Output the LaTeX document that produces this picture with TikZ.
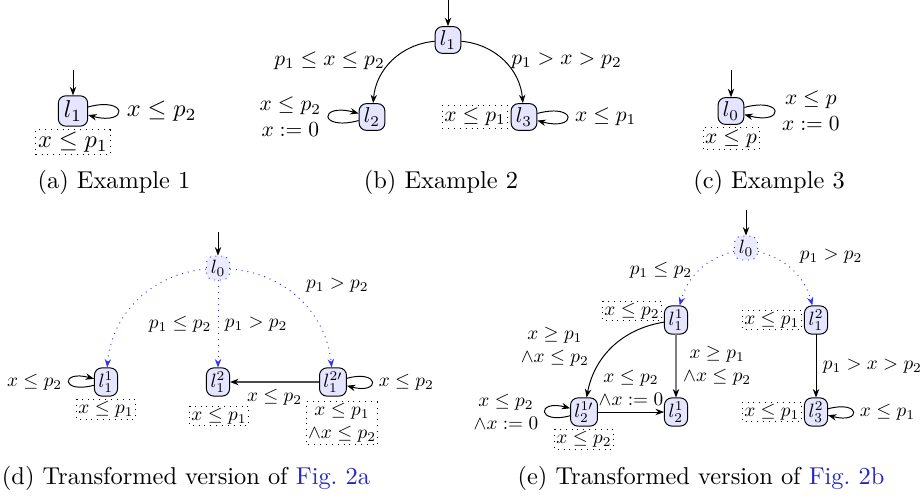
\documentclass[tikz,border=0pt]{standalone}
\usetikzlibrary{arrows.meta, positioning}
\definecolor{lkblue}{HTML}{2626C4}

\begin{document}
\begin{tikzpicture}[x=0.41pt, y=0.41pt,
  loc/.style={draw, rounded corners=3pt, fill=blue!10, inner sep=2pt,
              minimum width=12pt, minimum height=10.5pt},
  tloc/.style={loc, draw=blue!80, dotted, fill=blue!8},
  inv/.style={draw, dotted, inner sep=1pt},
  tr/.style={-{Stealth[length=3.5pt]}},
  split/.style={-{Stealth[length=3.5pt]}, draw=blue!80, dotted},
  lbl/.style={align=center},
  every loop/.append style={min distance=6mm}
]
  \useasboundingbox (0,0) rectangle (922,-498);

  % (a) Example 1
  \begin{scope}
    \coordinate (a0) at (73,-70);
    \node[loc] (a1) at (73,-111) {$l_1$};
    \node[inv, below=1pt of a1] (a1inv) {$x \le p_1$};
    \draw[tr] (a0) -- (a1);
    \draw[tr] (a1) to[loop right] node[right] {$x \le p_2$} (a1);
  \end{scope}

  % (b) Example 2
  \begin{scope}[every node/.append style={scale=0.88}]
    \coordinate (b0) at (448,0);
    \node[loc] (b1) at (448,-40) {$l_1$};
    \node[loc] (b2) at (372,-117) {$l_2$};
    \node[loc] (b3) at (524,-117) {$l_3$};
    \node[inv, left=1pt of b3] (b3inv) {$x \le p_1$};
    \draw[tr] (b0) -- (b1);
    \draw[tr] (b1) to[bend right=40] node[left] {$p_1 \le x \le p_2$} (b2);
    \draw[tr] (b1) to[bend left=40] node[right] {$p_1 > x > p_2$} (b3);
    \draw[tr] (b2) to[loop left] node[left, lbl] {$x \le p_2$\\$x := 0$} (b2);
    \draw[tr] (b3) to[loop right] node[right] {$x \le p_1$} (b3);
  \end{scope}

  % (c) Example 3
  \begin{scope}[every node/.append style={scale=0.88}]
    \coordinate (c0) at (731,-70);
    \node[loc] (c1) at (731,-111) {$l_0$};
    \node[inv, below=1pt of c1] (c1inv) {$x \le p$};
    \draw[tr] (c0) -- (c1);
    \draw[tr] (c1) to[loop right] node[right, lbl] {$x \le p$\\$x := 0$} (c1);
  \end{scope}

  % (d) transformed Example 1
  \begin{scope}[every node/.append style={scale=0.79},
                every loop/.append style={min distance=5mm}]
    \coordinate (d0i) at (218,-232);
    \node[tloc] (d0) at (218,-268) {$l_0$};
    \node[loc] (d11) at (106,-382) {$l_1^1$};
    \node[loc] (d12) at (218,-382) {$l_1^2$};
    \node[loc] (d12p) at (333,-382) {$l_1^{2\prime}$};
    \node[inv, below=1pt of d11] (d11inv) {$x \le p_1$};
    \node[inv] (d12inv) at (219,-416) {$x \le p_1$};
    \node[inv, lbl] (d12pinv) at (342,-423) {$x \le p_1$\\$\wedge x \le p_2$};
    \draw[tr] (d0i) -- (d0);
    \draw[split] (d0) to[bend right=40] (d11);
    \draw[split] (d0) -- node[left] {$p_1 \le p_2$} node[right] {$p_1 > p_2$} (d12);
    \draw[split] (d0) to[bend left=40] node[above right] {$p_1 > p_2$} (d12p);
    \draw[tr] (d11) to[loop left] node[left] {$x \le p_2$} (d11);
    \draw[-{Stealth[length=3.5pt, black]}, draw=black!70, semithick] (d12p) -- node[below] {$x \le p_2$} (d12);
    \draw[tr] (d12p) to[loop right] node[right] {$x \le p_2$} (d12p);
  \end{scope}

  % (e) transformed Example 2
  \begin{scope}[every node/.append style={scale=0.79},
                every loop/.append style={min distance=5mm}]
    \coordinate (e0i) at (746,-210);
    \node[tloc] (e0) at (746,-248) {$l_0$};
    \node[loc] (e11) at (676,-320) {$l_1^1$};
    \node[loc] (e12) at (816,-320) {$l_1^2$};
    \node[loc] (e21p) at (584,-412) {$l_2^{1\prime}$};
    \node[loc] (e21) at (676,-412) {$l_2^1$};
    \node[loc] (e32) at (816,-412) {$l_3^2$};
    \node[inv] (e11inv) at (632,-311) {$x \le p_2$};
    \node[inv, left=1pt of e12] (e12inv) {$x \le p_1$};
    \node[inv, below=1pt of e21p] (e21pinv) {$x \le p_2$};
    \node[inv, left=1pt of e32] (e32inv) {$x \le p_1$};
    \draw[tr] (e0i) -- (e0);
    \draw[split] (e0) to[bend right=30] node[left] {$p_1 \le p_2$} (e11);
    \draw[split] (e0) to[bend left=30] node[above right] {$p_1 > p_2$} (e12);
    \draw[tr] (e11) to[bend right=35] node[left=7pt, lbl] {$x \ge p_1$\\$\wedge x \le p_2$} (e21p);
    \draw[-{Stealth[length=3.5pt, black]}, draw=gray, thick] (e11) -- node[right, lbl] {$x \ge p_1$\\$\wedge x \le p_2$} (e21);
    \draw[tr] (e21p) -- node[above, lbl] {$x \le p_2$\\$\wedge x := 0$} (e21);
    \draw[tr] (e21p) to[loop left] node[left, lbl] {$x \le p_2$\\$\wedge x := 0$} (e21p);
    \draw[tr] (e12) -- node[right] {$p_1 > x > p_2$} (e32);
    \draw[tr] (e32) to[loop right] node[right] {$x \le p_1$} (e32);
  \end{scope}

  % Captions
  \node (capa) at (114,-182) {(a) Example 1};
  \node (capb) at (441,-182) {(b) Example 2};
  \node (capc) at (769,-182) {(c) Example 3};
  \node (capd) at (186,-478) {(d) Transformed version of \textcolor{lkblue}{Fig.~2a}};
  \node (cape) at (701,-478) {(e) Transformed version of \textcolor{lkblue}{Fig.~2b}};
\end{tikzpicture}
\end{document}
